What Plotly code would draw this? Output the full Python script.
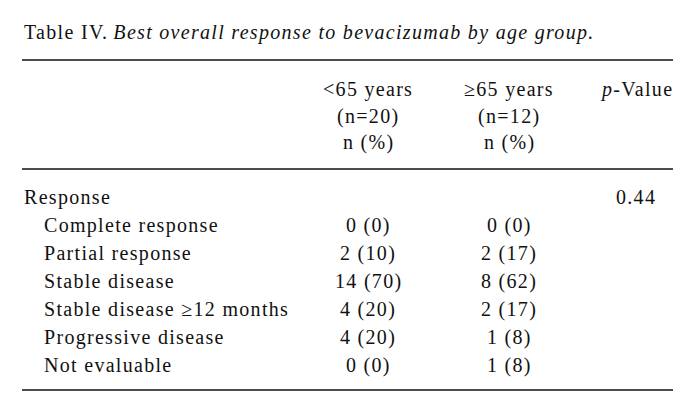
import plotly.graph_objects as go

# ---- data ----
title_label = "Table IV."
title_caption = "Best overall response to bevacizumab by age group."
group_names = ["<65 years", "≥65 years"]
group_sizes = [20, 12]
unit_label = "n (%)"
section_label = "Response"
section_pvalue = "0.44"
categories = ["Complete response", "Partial response", "Stable disease",
              "Stable disease ≥12 months", "Progressive disease", "Not evaluable"]
under65_n = [0, 2, 14, 4, 4, 0]
under65_pct = [0, 10, 70, 20, 20, 0]
over65_n = [0, 2, 8, 2, 1, 1]
over65_pct = [0, 17, 62, 17, 8, 8]

# ---- layout constants ----
W, H = 694, 416
FONT = "Liberation Serif, Times New Roman, serif"
FS = 20
LS = "1.3px"
INK = "#111111"
x_left, x_indent, x_right = 22, 42, 673
col_x = [368, 509, 636]
head_y = [89, 116, 142]
row_y0, row_dy = 197, 28
rules_y = [60, 169, 390]


def sp(t, ls=LS):
    return f'<span style="letter-spacing:{ls}">{t}</span>'


def esc(t):
    return t.replace("<", "&lt;").replace(">", "&gt;")


ann = []


def add(x, y, text, anchor="center", size=FS):
    ann.append(dict(x=x, y=y, xref="x", yref="y", text=text, showarrow=False,
                    xanchor=anchor, yanchor="middle",
                    font=dict(family=FONT, size=size, color=INK)))


# title
add(x_left, 32, sp(title_label) + " " + sp("<i>" + title_caption + "</i>"), "left", 20)

# headers
for gi, (name, n) in enumerate(zip(group_names, group_sizes)):
    add(col_x[gi], head_y[0], sp(esc(name)))
    add(col_x[gi], head_y[1], sp(f"(n={n})"))
    add(col_x[gi], head_y[2], sp(unit_label))
add(col_x[2], head_y[0], sp("<i>p</i>-Value"))

# section row
add(x_left, row_y0, sp(section_label), "left")
add(col_x[2], row_y0, sp(section_pvalue))

for i, cat in enumerate(categories):
    y = row_y0 + row_dy * (i + 1)
    add(x_indent, y, sp(cat), "left")
    add(col_x[0], y, sp(f"{under65_n[i]} ({under65_pct[i]})"))
    add(col_x[1], y, sp(f"{over65_n[i]} ({over65_pct[i]})"))

shapes = [dict(type="line", xref="x", yref="y", x0=x_left, x1=x_right, y0=y, y1=y,
               line=dict(color=INK, width=1.6)) for y in rules_y]

fig = go.Figure()
fig.update_layout(
    width=W, height=H, margin=dict(l=0, r=0, t=0, b=0),
    paper_bgcolor="white", plot_bgcolor="white",
    xaxis=dict(range=[0, W], visible=False, fixedrange=True),
    yaxis=dict(range=[H, 0], visible=False, fixedrange=True),
    annotations=ann, shapes=shapes, showlegend=False,
)
fig.write_html("out.html", config={"displayModeBar": False},
               post_script="document.body.style.margin='0';document.body.style.overflow='hidden';")
